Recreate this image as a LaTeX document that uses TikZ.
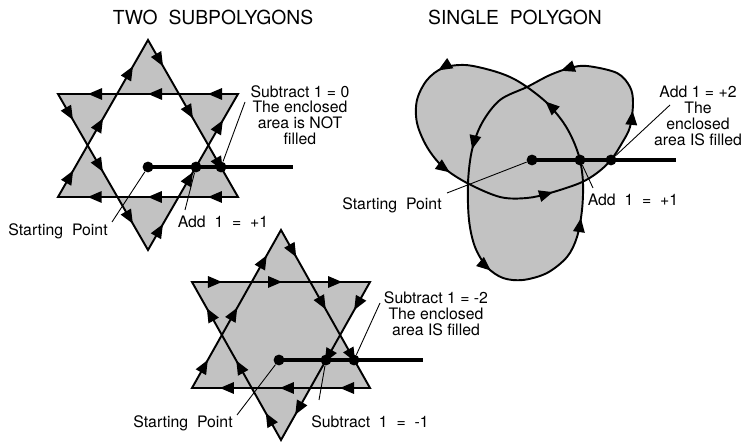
\documentclass[tikz,border=0pt]{standalone}
\usepackage{fontspec}
\setmainfont{TeX Gyre Heros}
\usetikzlibrary{arrows.meta,decorations.markings}
\tikzset{>={Triangle[length=8pt,width=6.5pt]}}

\begin{document}
\begin{tikzpicture}[x=0.02cm, y=0.02cm,
  polyfill/.style={fill=black!24},
  edgeline/.style={line width=1.1pt, decoration={markings,
      mark=between positions 0.0556 and 0.95 step 0.1111 with {\arrow{>}}},
    postaction={decorate}},
  curveline/.style={line width=1.1pt, fill=black!24, decoration={markings,
      mark=at position 0.005 with {\arrow{>}},
      mark=at position 0.117 with {\arrow{>}},
      mark=at position 0.219 with {\arrow{>}},
      mark=at position 0.332 with {\arrow{>}},
      mark=at position 0.426 with {\arrow{>}},
      mark=at position 0.542 with {\arrow{>}},
      mark=at position 0.660 with {\arrow{>}},
      mark=at position 0.778 with {\arrow{>}},
      mark=at position 0.896 with {\arrow{>}}},
    postaction={decorate}},
  rayline/.style={line width=2.3pt},
  hitdot/.style={circle, fill=black, inner sep=0pt, minimum size=6.2pt},
  leader/.style={line width=0.5pt},
  lbl/.style={font=\fontsize{9}{9}\selectfont, align=center, inner sep=0pt},
  ttl/.style={font=\fontsize{11}{13}\selectfont, inner sep=0pt}
]
\useasboundingbox (0,0) rectangle (748,442);

% ---------- Titles ----------
\node[ttl] (ttlTwo) at (213,425) {TWO~~SUBPOLYGONS};
\node[ttl] (ttlOne) at (515,425) {SINGLE~~POLYGON};

% ---------- Two subpolygons (top left) ----------
\coordinate (tlU1) at (238,245);
\coordinate (tlU2) at (58,245);
\coordinate (tlU3) at (148,402);
\coordinate (tlD1) at (238,348);
\coordinate (tlD2) at (58,348);
\coordinate (tlD3) at (148,192);
\fill[polyfill] (tlU1) -- (tlU2) -- (tlU3) -- cycle (tlD1) -- (tlD2) -- (tlD3) -- cycle;
\draw[edgeline] (tlU1) -- (tlU2) -- (tlU3) -- cycle;
\draw[edgeline] (tlD1) -- (tlD2) -- (tlD3) -- cycle;

\node[hitdot] (tlStartDot) at (148,275) {};
\node[hitdot] (tlHitA) at (196,275) {};
\node[hitdot] (tlHitB) at (221,275) {};
\coordinate (tlRayEnd) at (293,275);
\draw[rayline] (tlStartDot.center) -- (tlRayEnd);

\node[lbl] (tlNote) at (300,327) {Subtract 1 = 0\\The enclosed\\area is NOT\\filled};
\node[lbl] (tlAdd) at (223,220) {Add~~1~~=~~+1};
\node[lbl, anchor=east] (tlStart) at (108,211) {Starting~~Point};
\coordinate (tlTipNote) at (245,340);
\coordinate (tlTipAdd) at (185,232);
\coordinate (tlTipStart) at (112,220);
\draw[leader] (tlHitB) -- (tlTipNote);
\draw[leader] (tlHitA) -- (tlTipAdd);
\draw[leader] (tlStartDot) -- (tlTipStart);

% ---------- Single polygon (top right) ----------
\draw[curveline] plot[smooth cycle, tension=0.55] coordinates {
  (465,377) (443,374) (427,362) (417,342) (417,319) (427,295) (443,275)
  (467,259) (500,245) (527,244) (550,249) (580,259) (597,269) (611,282)
  (622,299) (630,315) (633,339) (630,355) (617,369) (587,376) (570,374)
  (550,367) (527,355) (500,342) (482,319) (472,292) (468,259) (469,222)
  (475,195) (487,175) (503,164) (523,162) (547,169) (567,185) (577,205)
  (582,232) (583,259) (580,282) (573,302) (563,320) (547,339) (527,355)
  (510,365) (490,372)};

\node[hitdot] (trStartDot) at (532,282) {};
\node[hitdot] (trHitA) at (580,282) {};
\node[hitdot] (trHitB) at (611,282) {};
\coordinate (trRayEnd) at (676,282);
\draw[rayline] (trStartDot.center) -- (trRayEnd);

\node[lbl] (trNote) at (698,326) {Add 1 = +2\\The\\enclosed\\area IS filled};
\node[lbl] (trAdd) at (633,242) {Add~~1~~=~~+1};
\node[lbl] (trStart) at (392,237) {Starting~~Point};
\coordinate (trTipNote) at (670,337);
\coordinate (trTipAdd) at (593,254);
\coordinate (trTipStart) at (447,249);
\draw[leader] (trHitB) -- (trTipNote);
\draw[leader] (trHitA) -- (trTipAdd);
\draw[leader] (trStartDot) -- (trTipStart);

% ---------- Single polygon star (bottom) ----------
\coordinate (bU1) at (370,54);
\coordinate (bU2) at (192,54);
\coordinate (bU3) at (281,212);
\coordinate (bD1) at (192,160);
\coordinate (bD2) at (370,160);
\coordinate (bD3) at (281,2);
\fill[polyfill] (bU1) -- (bU2) -- (bU3) -- cycle (bD1) -- (bD2) -- (bD3) -- cycle;
\draw[edgeline] (bU1) -- (bU2) -- (bU3) -- cycle;
\draw[edgeline] (bD1) -- (bD2) -- (bD3) -- cycle;

\node[hitdot] (bStartDot) at (279,82) {};
\node[hitdot] (bHitA) at (326,82) {};
\node[hitdot] (bHitB) at (354,82) {};
\coordinate (bRayEnd) at (423,82);
\draw[rayline] (bStartDot.center) -- (bRayEnd);

\node[lbl] (bNote) at (436,128) {Subtract 1 = -2\\The enclosed\\area IS filled};
\node[lbl] (bSub) at (370,20) {Subtract~~1~~=~~-1};
\node[lbl, anchor=east] (bStart) at (233,19) {Starting~~Point};
\coordinate (bTipNote) at (380,139);
\coordinate (bTipSub) at (319,42);
\coordinate (bTipStart) at (237,27);
\draw[leader] (bHitB) -- (bTipNote);
\draw[leader] (bHitA) -- (bTipSub);
\draw[leader] (bStartDot) -- (bTipStart);

\end{tikzpicture}
\end{document}
